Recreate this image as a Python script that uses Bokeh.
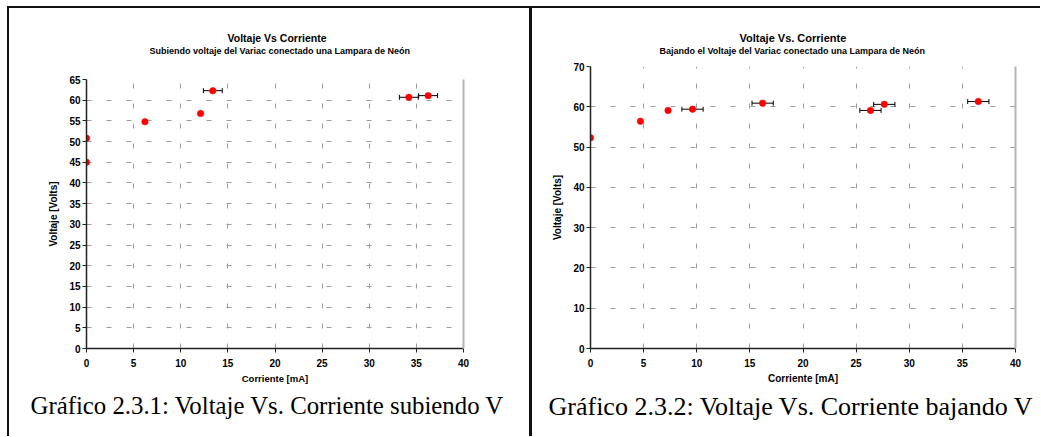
from bokeh.plotting import figure
from bokeh.models import (Range1d, LinearAxis, FixedTicker, Whisker, TeeHead,
                          ColumnDataSource, Title, Div, Spacer)
from bokeh.layouts import row, column
from bokeh.embed import file_html
from bokeh.resources import INLINE

# ---------------- data ----------------
corriente_sub = [0.0, 0.0, 6.2, 12.1, 13.4, 34.2, 36.25]
voltaje_sub = [45.0, 50.8, 54.8, 56.8, 62.3, 60.7, 61.1]
err_corr_sub = [0.0, 0.0, 0.0, 0.0, 1.0, 1.0, 1.0]

corriente_baj = [0.0, 4.7, 7.3, 9.6, 16.2, 26.35, 27.65, 36.5]
voltaje_baj = [52.3, 56.4, 59.1, 59.4, 60.9, 59.1, 60.6, 61.3]
err_corr_baj = [0.0, 0.0, 0.0, 1.0, 1.0, 1.0, 1.0, 1.0]

x_ticks = [0, 5, 10, 15, 20, 25, 30, 35, 40]
y_ticks_sub = [0, 5, 10, 15, 20, 25, 30, 35, 40, 45, 50, 55, 60, 65]
y_ticks_baj = [0, 10, 20, 30, 40, 50, 60, 70]

title_sub = "Voltaje Vs Corriente"
subtitle_sub = "Subiendo voltaje del Variac conectado una Lampara de Neón"
caption_sub = "Gráfico 2.3.1: Voltaje Vs. Corriente subiendo V"
title_baj = "Voltaje Vs. Corriente"
subtitle_baj = "Bajando el Voltaje del Variac conectado una Lampara de Neón"
caption_baj = "Gráfico 2.3.2: Voltaje Vs. Corriente bajando V"
x_label = "Corriente [mA]"
y_label = "Voltaje [Volts]"

SANS = "Liberation Sans"
SERIF = "Liberation Serif"


def make_chart(xs, ys, errs, yticks, title, subtitle, caption, width, height,
               mbl, mbr, mbt, mbb, gap, title_off, sub_off, cap_off, cap_size,
               title_size, xlabel_size, ylabel_size):
    p = figure(width=width, height=height, x_range=Range1d(x_ticks[0], x_ticks[-1]),
               y_range=Range1d(yticks[0], yticks[-1]), output_backend="svg",
               toolbar_location=None, title=None, min_border_left=mbl,
               min_border_right=mbr, min_border_top=mbt, min_border_bottom=mbb,
               background_fill_color="white", border_fill_color="white",
               outline_line_color=None, margin=0, frame_align=False)

    for ax in (p.xaxis[0], p.yaxis[0]):
        ax.axis_line_color = "#222222"
        ax.axis_line_width = 1.5
        ax.major_tick_line_color = "#222222"
        ax.major_tick_in = 0
        ax.minor_tick_line_color = None
        ax.major_label_text_font = SANS
        ax.major_label_text_font_style = "bold"
        ax.major_label_text_font_size = "10px"
        ax.major_label_text_color = "black"
        ax.axis_label_text_font = SANS
        ax.axis_label_text_font_style = "bold"
        ax.axis_label_text_color = "black"

    p.xaxis.ticker = FixedTicker(ticks=x_ticks)
    p.yaxis.ticker = FixedTicker(ticks=yticks)
    p.xaxis.axis_label = x_label
    p.yaxis.axis_label = y_label
    p.xaxis.axis_label_text_font_size = xlabel_size
    p.yaxis.axis_label_text_font_size = ylabel_size
    p.xaxis.major_tick_out = 4
    p.yaxis.major_tick_out = 4
    p.xaxis.major_label_standoff = 6
    p.yaxis.major_label_standoff = 2
    p.xaxis.axis_label_standoff = 3
    p.yaxis.axis_label_standoff = 7

    right_ax = LinearAxis(ticker=FixedTicker(ticks=[]), axis_line_color="#b4b4b4",
                          axis_line_width=2, major_tick_line_color=None,
                          minor_tick_line_color=None)
    p.add_layout(right_ax, "right")

    for g in (p.xgrid[0], p.ygrid[0]):
        g.grid_line_color = "#9c9c9c"
        g.grid_line_dash = "5 15"
        g.grid_line_width = 1
    p.xgrid.ticker = FixedTicker(ticks=x_ticks)
    p.ygrid.ticker = FixedTicker(ticks=yticks)

    # error bars (only where an error is given)
    ex = [x for x, e in zip(xs, errs) if e > 0]
    ey = [y for y, e in zip(ys, errs) if e > 0]
    ee = [e for e in errs if e > 0]
    esrc = ColumnDataSource(dict(y=ey, lo=[x - e for x, e in zip(ex, ee)],
                                 hi=[x + e for x, e in zip(ex, ee)]))
    w = Whisker(base="y", lower="lo", upper="hi", dimension="width", source=esrc,
                line_color="black", line_width=1,
                lower_head=TeeHead(size=5, line_color="black", line_width=1),
                upper_head=TeeHead(size=5, line_color="black", line_width=1))
    p.add_layout(w)

    src = ColumnDataSource(dict(x=xs, y=ys))
    p.scatter("x", "y", source=src, marker="circle", size=6.5,
              fill_color="#ff0000", line_color="#ff0000", line_width=0.5)

    # blank spacer between plot and subtitle, then subtitle, then main title
    p.add_layout(Title(text=" ", standoff=gap, text_font=SANS,
                       text_font_size="6px", text_color="white"), "above")
    p.add_layout(Title(text=subtitle, align="left", offset=sub_off, standoff=0,
                       text_font=SANS, text_font_style="bold",
                       text_font_size="9px", text_color="black"), "above")
    p.add_layout(Title(text=title, align="left", offset=title_off, standoff=0,
                       text_font=SANS, text_font_style="bold",
                       text_font_size=title_size, text_color="black"), "above")
    p.add_layout(Title(text=caption, align="left", offset=cap_off, standoff=10,
                       vertical_align="top", text_font=SERIF,
                       text_font_style="normal", text_font_size=cap_size,
                       text_color="black"), "below")
    return p


p1 = make_chart(corriente_sub, voltaje_sub, err_corr_sub, y_ticks_sub,
                title_sub, subtitle_sub, caption_sub, 520, 428,
                77, 66, 71, 88, 16, 141, 63, -56, "24.8px", "10.5px",
                "9.5px", "10px")
p2 = make_chart(corriente_baj, voltaje_baj, err_corr_baj, y_ticks_baj,
                title_baj, subtitle_baj, caption_baj, 508, 428,
                58, 25, 58, 88, 3, 149, 69, -42, "26px", "11px",
                "10px", "10px")

top_bar = Div(text="", width=1033, height=2, margin=0,
              styles={"background-color": "#111111"})
left_bar = Div(text="", width=2, height=428, margin=0,
               styles={"background-color": "#111111"})
mid_bar = Div(text="", width=3, height=428, margin=0,
              styles={"background-color": "#111111"})

layout = column(
    Spacer(width=1040, height=6, margin=0),
    row(Spacer(width=7, height=430, margin=0),
        column(top_bar, row(left_bar, p1, mid_bar, p2, spacing=0), spacing=0),
        spacing=0),
    spacing=0)

open("out.html", "w").write(file_html(layout, INLINE))
